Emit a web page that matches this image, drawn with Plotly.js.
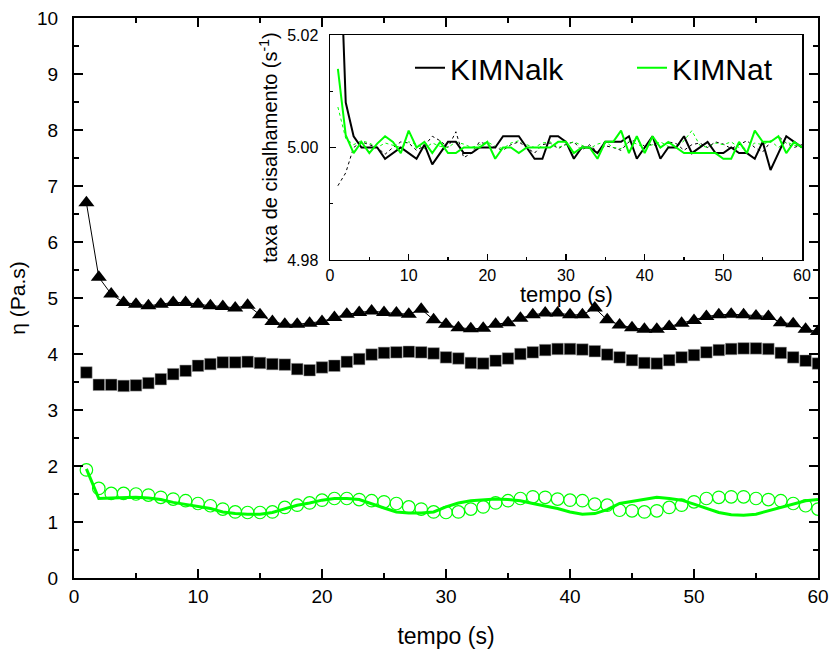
<!DOCTYPE html>
<html><head><meta charset="utf-8">
<script src="https://cdn.plot.ly/plotly-3.0.1.min.js"></script>
<style>html,body{margin:0;padding:0;background:#fff}</style>
</head><body><div id="chart" style="width:831px;height:655px"></div>
<script>
// time (s)
const tempo = [1,2,3,4,5,6,7,8,9,10,11,12,13,14,15,16,17,18,19,20,21,22,23,24,25,26,27,28,29,30,
  31,32,33,34,35,36,37,38,39,40,41,42,43,44,45,46,47,48,49,50,51,52,53,54,55,56,57,58,59,60];

// main plot: viscosity (Pa.s)
const etaTriangles = [6.70,5.37,5.07,4.92,4.89,4.86,4.89,4.92,4.92,4.89,4.86,4.85,4.82,4.87,4.70,4.58,4.53,4.53,4.55,4.58,
  4.65,4.71,4.74,4.77,4.74,4.73,4.71,4.80,4.61,4.53,4.47,4.45,4.46,4.53,4.56,4.64,4.70,4.73,4.73,4.70,
  4.70,4.82,4.61,4.52,4.47,4.44,4.44,4.49,4.55,4.60,4.67,4.70,4.71,4.70,4.68,4.67,4.56,4.54,4.44,4.40];
const etaSquares = [3.67,3.45,3.45,3.43,3.44,3.48,3.55,3.64,3.70,3.79,3.82,3.85,3.85,3.86,3.84,3.82,3.81,3.73,3.71,3.76,
  3.79,3.86,3.91,3.99,4.02,4.03,4.04,4.03,4.01,3.94,3.92,3.84,3.83,3.88,3.92,4.00,4.03,4.07,4.09,4.09,
  4.08,4.05,3.99,3.94,3.89,3.84,3.83,3.89,3.94,3.98,4.03,4.07,4.09,4.10,4.10,4.09,4.02,3.94,3.88,3.83];
const etaCircles = [1.93,1.60,1.51,1.51,1.50,1.48,1.44,1.41,1.38,1.33,1.29,1.23,1.18,1.17,1.17,1.18,1.26,1.30,1.34,1.39,
  1.42,1.42,1.40,1.38,1.36,1.33,1.27,1.23,1.18,1.17,1.18,1.23,1.27,1.34,1.38,1.42,1.45,1.44,1.41,1.39,
  1.38,1.32,1.30,1.21,1.20,1.18,1.20,1.26,1.30,1.36,1.42,1.44,1.45,1.45,1.42,1.40,1.38,1.33,1.29,1.23];
const etaGreenLine = [1.95,1.42,1.43,1.44,1.44,1.43,1.40,1.35,1.31,1.28,1.24,1.18,1.15,1.14,1.14,1.17,1.24,1.30,1.34,1.39,
  1.42,1.42,1.40,1.32,1.25,1.18,1.16,1.16,1.18,1.27,1.34,1.38,1.40,1.41,1.40,1.38,1.33,1.29,1.24,1.18,
  1.14,1.15,1.22,1.33,1.37,1.41,1.44,1.42,1.39,1.32,1.24,1.17,1.13,1.12,1.14,1.20,1.26,1.32,1.38,1.40];

// inset: shear rate (1/s)
const rateKIMNalk = [5.047,5.008,5.002,5.000,5.000,5.000,4.998,4.999,5.000,4.999,4.998,5.0005,4.997,4.999,5.001,5.001,4.999,4.999,5.000,5.000,
  5.000,5.002,5.002,5.002,5.000,4.998,4.998,5.002,5.002,5.001,4.998,5.000,5.000,4.999,5.001,5.001,5.001,5.002,4.998,5.000,
  5.002,4.998,5.000,5.000,5.002,4.999,5.000,5.001,4.999,4.999,5.000,4.999,4.999,4.998,5.001,4.996,4.999,5.002,5.001,5.000];
const rateKIMNat = [5.014,5.0022,4.999,5.001,4.999,5.0007,5.002,5.001,4.999,5.003,5.000,5.001,4.999,5.001,4.999,4.999,5.000,5.000,5.000,5.001,
  4.998,5.000,5.000,4.999,5.000,5.000,5.000,5.000,5.001,5.001,4.999,5.000,5.000,4.998,5.001,5.001,5.003,4.999,5.002,4.999,
  5.002,5.000,5.001,5.000,4.999,4.999,4.999,4.999,4.999,4.998,4.998,5.001,4.999,5.003,5.001,5.001,5.002,4.999,5.001,5.000];
const rateBlackDotted = [4.9932,4.9955,5.0000,5.0010,5.0005,5.0000,4.9988,5.0000,5.0010,5.0008,4.9995,5.0003,5.0020,5.0012,5.0000,5.0028,4.9982,4.9990,5.0010,5.0005,
  5.0000,4.9995,5.0005,5.0010,5.0000,4.9990,5.0005,5.0008,4.9998,5.0006,5.0010,4.9995,5.0005,4.9992,5.0003,5.0000,4.9995,5.0010,5.0013,5.0002,
  5.0006,5.0000,5.0010,5.0007,4.9995,5.0005,5.0008,5.0000,5.0010,5.0006,4.9998,5.0005,5.0012,5.0000,4.9992,5.0010,5.0020,5.0008,5.0000,5.0005];
const rateGreenDotted = [5.0072,5.0016,5.0005,5.0012,5.0008,5.0000,5.0008,5.0004,5.0000,5.0010,5.0006,4.9998,5.0008,5.0002,5.0000,5.0010,5.0006,5.0000,5.0005,5.0010,
  5.0002,4.9998,5.0008,5.0012,5.0005,5.0000,5.0008,5.0010,5.0000,5.0005,5.0010,5.0004,4.9998,5.0006,5.0010,5.0000,4.9998,5.0012,5.0006,5.0000,
  5.0005,5.0010,5.0002,5.0000,5.0012,5.0030,5.0004,5.0000,5.0008,5.0005,5.0010,5.0000,4.9998,5.0008,5.0005,5.0012,5.0000,5.0010,5.0004,5.0002];

const GREEN = '#00ff00';
const FONT = '"Liberation Sans", Arial, sans-serif';

const traces = [
  {x: tempo, y: etaTriangles, mode: 'lines+markers', showlegend: false,
   line: {color: '#000', width: 1}, marker: {symbol: 'triangle-up', size: 14, color: '#000'}},
  {x: tempo, y: etaSquares, mode: 'markers', showlegend: false,
   marker: {symbol: 'square', size: 11.5, color: '#000', line: {color: '#999', width: 0.5}}},
  {x: tempo, y: etaGreenLine, mode: 'lines', showlegend: false,
   line: {color: GREEN, width: 3}},
  {x: tempo, y: etaCircles, mode: 'markers', showlegend: false,
   marker: {symbol: 'circle-open', size: 12.5, color: GREEN, line: {color: GREEN, width: 1.2}}},
  // inset
  {x: tempo, y: rateBlackDotted, xaxis: 'x2', yaxis: 'y2', mode: 'lines', showlegend: false,
   line: {color: '#000', width: 1, dash: 'dot'}},
  {x: tempo, y: rateGreenDotted, xaxis: 'x2', yaxis: 'y2', mode: 'lines', showlegend: false,
   line: {color: GREEN, width: 1, dash: 'dot'}},
  {x: tempo, y: rateKIMNalk, xaxis: 'x2', yaxis: 'y2', mode: 'lines', name: 'KIMNalk', legend: 'legend',
   line: {color: '#000', width: 2}},
  {x: tempo, y: rateKIMNat, xaxis: 'x2', yaxis: 'y2', mode: 'lines', name: 'KIMNat', legend: 'legend2',
   line: {color: GREEN, width: 2}}
];

const mainAxis = {
  showgrid: false, zeroline: false, linecolor: '#000', linewidth: 2, mirror: 'allticks',
  ticks: 'inside', ticklen: 9, tickwidth: 1.5, tickcolor: '#000',
  tickfont: {family: FONT, size: 19, color: '#000'}
};
const insetAxis = {
  showgrid: false, zeroline: false, linecolor: '#000', linewidth: 1.5, mirror: true,
  ticks: 'inside', ticklen: 6, tickwidth: 1.2, tickcolor: '#000',
  tickfont: {family: FONT, size: 16, color: '#000'}
};

const layout = {
  width: 831, height: 655,
  margin: {l: 74, r: 13, t: 18, b: 77},
  paper_bgcolor: '#fff', plot_bgcolor: '#fff',
  font: {family: FONT, color: '#000'},
  showlegend: true,
  xaxis: Object.assign({}, mainAxis, {
    range: [0, 60], tick0: 0, dtick: 10, anchor: 'y',
    minor: {dtick: 5, ticks: 'inside', ticklen: 5, tickwidth: 1.5, tickcolor: '#000', showgrid: false},
    title: {text: 'tempo (s)', font: {family: FONT, size: 23}, standoff: 22}
  }),
  yaxis: Object.assign({}, mainAxis, {
    range: [0, 10], tick0: 0, dtick: 1, anchor: 'x', ticklabelstandoff: 10,
    minor: {dtick: 0.5, ticks: 'inside', ticklen: 5, tickwidth: 1.5, tickcolor: '#000', showgrid: false},
    title: {text: 'η (Pa.s)', font: {family: FONT, size: 21}, standoff: 6}
  }),
  xaxis2: Object.assign({}, insetAxis, {
    domain: [0.3441, 0.9785], anchor: 'y2', range: [0, 60], tick0: 0, dtick: 10,
    minor: {dtick: 5, ticks: 'inside', ticklen: 3, tickwidth: 1.2, tickcolor: '#000', showgrid: false}
  }),
  yaxis2: Object.assign({}, insetAxis, {
    domain: [0.5679, 0.9696], anchor: 'x2', range: [4.98, 5.02], tick0: 4.98, dtick: 0.02, tickformat: '.2f',
    ticklabelstandoff: 7,
    minor: {dtick: 0.01, ticks: 'inside', ticklen: 3, tickwidth: 1.2, tickcolor: '#000', showgrid: false},
    title: {text: 'taxa de cisalhamento (s<sup>-1</sup>)', font: {family: FONT, size: 20}, standoff: 4}
  }),
  annotations: [
    {text: 'tempo (s)', xref: 'paper', yref: 'paper', x: 0.6613, y: 0.506, xanchor: 'center', yanchor: 'middle',
     showarrow: false, font: {family: FONT, size: 22, color: '#000'}}
  ],
  legend: {x: 0.4516, y: 0.911, xanchor: 'left', yanchor: 'middle', bgcolor: 'rgba(0,0,0,0)',
    font: {family: FONT, size: 30, color: '#000'}, borderwidth: 0},
  legend2: {x: 0.75, y: 0.911, xanchor: 'left', yanchor: 'middle', bgcolor: 'rgba(0,0,0,0)',
    font: {family: FONT, size: 30, color: '#000'}, borderwidth: 0}
};

Plotly.newPlot('chart', traces, layout, {displayModeBar: false, staticPlot: true});
</script>
</body></html>
